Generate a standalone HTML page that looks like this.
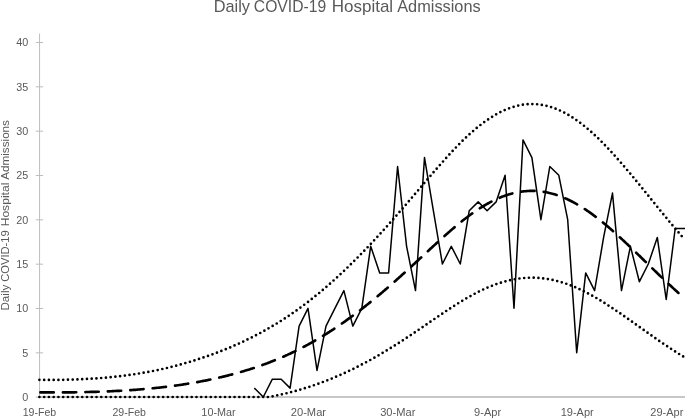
<!DOCTYPE html>
<html><head><meta charset="utf-8"><title>Daily COVID-19 Hospital Admissions</title>
<style>
html,body{margin:0;padding:0;background:#fff;}
body{width:685px;height:418px;overflow:hidden;}
svg{display:block;font-family:"Liberation Sans",sans-serif;}
</style></head><body>
<svg width="685" height="418" viewBox="0 0 685 418">
<rect width="685" height="418" fill="#fff"/>
<g font-size="16.2" fill="#595959"><text x="213.70" y="11.9" textLength="36.31" lengthAdjust="spacingAndGlyphs">Daily</text><text x="253.87" y="11.9" textLength="72.29" lengthAdjust="spacingAndGlyphs">COVID-19</text><text x="331.78" y="11.9" textLength="61.36" lengthAdjust="spacingAndGlyphs">Hospital</text><text x="397.20" y="11.9" textLength="83.51" lengthAdjust="spacingAndGlyphs">Admissions</text></g>
<g transform="translate(9.2 309.8) rotate(-90)" font-size="11.8" fill="#595959"><text x="-0.82" y="0" textLength="25.92" lengthAdjust="spacingAndGlyphs">Daily</text><text x="28.04" y="0" textLength="51.55" lengthAdjust="spacingAndGlyphs">COVID-19</text><text x="83.44" y="0" textLength="43.76" lengthAdjust="spacingAndGlyphs">Hospital</text><text x="130.10" y="0" textLength="59.66" lengthAdjust="spacingAndGlyphs">Admissions</text></g>
<g stroke="#bdbdbd" stroke-width="1" fill="none" >
<line x1="39.57" x2="39.57" y1="33.6" y2="397.4"/>
<line x1="39" x2="685" y1="397" y2="397" stroke="#b4b4b4" stroke-width="1.3"/>
<line x1="35.8" x2="43.1" y1="397.18" y2="397.18"/><line x1="35.8" x2="43.1" y1="352.84" y2="352.84"/><line x1="35.8" x2="43.1" y1="308.51" y2="308.51"/><line x1="35.8" x2="43.1" y1="264.18" y2="264.18"/><line x1="35.8" x2="43.1" y1="219.84" y2="219.84"/><line x1="35.8" x2="43.1" y1="175.50" y2="175.50"/><line x1="35.8" x2="43.1" y1="131.17" y2="131.17"/><line x1="35.8" x2="43.1" y1="86.83" y2="86.83"/><line x1="35.8" x2="43.1" y1="42.50" y2="42.50"/>
</g>
<g font-size="10.8" fill="#595959"><text x="28.3" y="400.9" text-anchor="end">0</text><text x="28.3" y="356.5" text-anchor="end">5</text><text x="28.3" y="312.2" text-anchor="end">10</text><text x="28.3" y="267.8" text-anchor="end">15</text><text x="28.3" y="223.5" text-anchor="end">20</text><text x="28.3" y="179.2" text-anchor="end">25</text><text x="28.3" y="134.8" text-anchor="end">30</text><text x="28.3" y="90.5" text-anchor="end">35</text><text x="28.3" y="46.2" text-anchor="end">40</text></g>
<g font-size="10.8" fill="#595959"><text x="22.72" y="415.8" textLength="33.55" lengthAdjust="spacingAndGlyphs">19-Feb</text><text x="112.48" y="415.8" textLength="33.53" lengthAdjust="spacingAndGlyphs">29-Feb</text><text x="201.37" y="415.8" textLength="34.28" lengthAdjust="spacingAndGlyphs">10-Mar</text><text x="290.79" y="415.8" textLength="35.27" lengthAdjust="spacingAndGlyphs">20-Mar</text><text x="380.18" y="415.8" textLength="35.27" lengthAdjust="spacingAndGlyphs">30-Mar</text><text x="474.08" y="415.8" textLength="27.03" lengthAdjust="spacingAndGlyphs">9-Apr</text><text x="560.72" y="415.8" textLength="33.04" lengthAdjust="spacingAndGlyphs">19-Apr</text><text x="650.38" y="415.8" textLength="33.02" lengthAdjust="spacingAndGlyphs">29-Apr</text></g>
<g fill="none" stroke="#000" >
<path d="M39.4 379.8 L40.4 379.8 L41.4 379.8 L42.4 379.9 L43.4 379.9 L44.4 379.9 L45.4 379.9 L46.4 379.9 L47.4 379.9 L48.4 379.9 L49.4 379.9 L50.4 379.9 L51.4 379.9 L52.4 379.9 L53.4 379.9 L54.4 379.9 L55.4 379.9 L56.4 379.9 L57.4 379.9 L58.4 379.9 L59.4 379.9 L60.4 379.9 L61.4 379.9 L62.4 379.9 L63.4 379.8 L64.4 379.8 L65.4 379.8 L66.4 379.8 L67.4 379.7 L68.4 379.7 L69.4 379.7 L70.4 379.7 L71.4 379.6 L72.4 379.6 L73.4 379.6 L74.4 379.5 L75.4 379.5 L76.4 379.5 L77.4 379.4 L78.4 379.4 L79.4 379.3 L80.4 379.3 L81.4 379.3 L82.4 379.2 L83.4 379.2 L84.4 379.1 L85.4 379.1 L86.4 379.0 L87.4 378.9 L88.4 378.9 L89.4 378.8 L90.4 378.8 L91.4 378.7 L92.4 378.6 L93.4 378.6 L94.4 378.5 L95.4 378.4 L96.4 378.4 L97.4 378.3 L98.4 378.2 L99.4 378.1 L100.4 378.1 L101.4 378.0 L102.4 377.9 L103.4 377.8 L104.4 377.7 L105.4 377.7 L106.4 377.6 L107.4 377.5 L108.4 377.4 L109.4 377.3 L110.4 377.2 L111.4 377.1 L112.4 377.0 L113.4 376.9 L114.4 376.8 L115.4 376.7 L116.4 376.6 L117.4 376.4 L118.4 376.3 L119.4 376.2 L120.4 376.1 L121.4 376.0 L122.4 375.9 L123.4 375.7 L124.4 375.6 L125.4 375.5 L126.4 375.3 L127.4 375.2 L128.4 375.1 L129.4 374.9 L130.4 374.8 L131.4 374.6 L132.4 374.5 L133.4 374.4 L134.4 374.2 L135.4 374.1 L136.4 373.9 L137.4 373.7 L138.4 373.6 L139.4 373.4 L140.4 373.3 L141.4 373.1 L142.4 372.9 L143.4 372.7 L144.4 372.6 L145.4 372.4 L146.4 372.2 L147.4 372.0 L148.4 371.9 L149.4 371.7 L150.4 371.5 L151.4 371.3 L152.4 371.1 L153.4 370.9 L154.4 370.7 L155.4 370.5 L156.4 370.3 L157.4 370.1 L158.4 369.9 L159.4 369.7 L160.4 369.4 L161.4 369.2 L162.4 369.0 L163.4 368.8 L164.4 368.5 L165.4 368.3 L166.4 368.1 L167.4 367.9 L168.4 367.6 L169.4 367.4 L170.4 367.1 L171.4 366.9 L172.4 366.6 L173.4 366.4 L174.4 366.1 L175.4 365.9 L176.4 365.6 L177.4 365.3 L178.4 365.1 L179.4 364.8 L180.4 364.5 L181.4 364.3 L182.4 364.0 L183.4 363.7 L184.4 363.4 L185.4 363.1 L186.4 362.8 L187.4 362.6 L188.4 362.3 L189.4 362.0 L190.4 361.7 L191.4 361.4 L192.4 361.1 L193.4 360.7 L194.4 360.4 L195.4 360.1 L196.4 359.8 L197.4 359.5 L198.4 359.2 L199.4 358.8 L200.4 358.5 L201.4 358.2 L202.4 357.8 L203.4 357.5 L204.4 357.2 L205.4 356.8 L206.4 356.5 L207.4 356.1 L208.4 355.8 L209.4 355.4 L210.4 355.1 L211.4 354.7 L212.4 354.3 L213.4 354.0 L214.4 353.6 L215.4 353.2 L216.4 352.9 L217.4 352.5 L218.4 352.1 L219.4 351.7 L220.4 351.3 L221.4 350.9 L222.4 350.5 L223.4 350.1 L224.4 349.7 L225.4 349.3 L226.4 348.9 L227.4 348.5 L228.4 348.1 L229.4 347.7 L230.4 347.3 L231.4 346.8 L232.4 346.4 L233.4 346.0 L234.4 345.5 L235.4 345.1 L236.4 344.7 L237.4 344.2 L238.4 343.8 L239.4 343.3 L240.4 342.8 L241.4 342.4 L242.4 341.9 L243.4 341.5 L244.4 341.0 L245.4 340.5 L246.4 340.0 L247.4 339.5 L248.4 339.1 L249.4 338.6 L250.4 338.1 L251.4 337.6 L252.4 337.1 L253.4 336.6 L254.4 336.0 L255.4 335.5 L256.4 335.0 L257.4 334.5 L258.4 334.0 L259.4 333.4 L260.4 332.9 L261.4 332.3 L262.4 331.8 L263.4 331.3 L264.4 330.7 L265.4 330.1 L266.4 329.6 L267.4 329.0 L268.4 328.4 L269.4 327.9 L270.4 327.3 L271.4 326.7 L272.4 326.1 L273.4 325.5 L274.4 324.9 L275.4 324.3 L276.4 323.7 L277.4 323.1 L278.4 322.5 L279.4 321.9 L280.4 321.2 L281.4 320.6 L282.4 320.0 L283.4 319.3 L284.4 318.7 L285.4 318.0 L286.4 317.4 L287.4 316.7 L288.4 316.0 L289.4 315.4 L290.4 314.7 L291.4 314.0 L292.4 313.3 L293.4 312.6 L294.4 311.9 L295.4 311.2 L296.4 310.5 L297.4 309.8 L298.4 309.1 L299.4 308.3 L300.4 307.6 L301.4 306.9 L302.4 306.1 L303.4 305.4 L304.4 304.6 L305.4 303.9 L306.4 303.1 L307.4 302.4 L308.4 301.6 L309.4 300.8 L310.4 300.0 L311.4 299.2 L312.4 298.5 L313.4 297.7 L314.4 296.9 L315.4 296.0 L316.4 295.2 L317.4 294.4 L318.4 293.6 L319.4 292.8 L320.4 291.9 L321.4 291.1 L322.4 290.2 L323.4 289.4 L324.4 288.5 L325.4 287.7 L326.4 286.8 L327.4 285.9 L328.4 285.1 L329.4 284.2 L330.4 283.3 L331.4 282.4 L332.4 281.5 L333.4 280.6 L334.4 279.7 L335.4 278.8 L336.4 277.9 L337.4 277.0 L338.4 276.1 L339.4 275.2 L340.4 274.2 L341.4 273.3 L342.4 272.4 L343.4 271.4 L344.4 270.5 L345.4 269.5 L346.4 268.6 L347.4 267.6 L348.4 266.6 L349.4 265.7 L350.4 264.7 L351.4 263.7 L352.4 262.7 L353.4 261.7 L354.4 260.7 L355.4 259.7 L356.4 258.7 L357.4 257.7 L358.4 256.7 L359.4 255.7 L360.4 254.7 L361.4 253.7 L362.4 252.6 L363.4 251.6 L364.4 250.6 L365.4 249.5 L366.4 248.5 L367.4 247.5 L368.4 246.4 L369.4 245.3 L370.4 244.3 L371.4 243.2 L372.4 242.2 L373.4 241.1 L374.4 240.0 L375.4 238.9 L376.4 237.9 L377.4 236.8 L378.4 235.7 L379.4 234.6 L380.4 233.5 L381.4 232.4 L382.4 231.3 L383.4 230.2 L384.4 229.1 L385.4 228.0 L386.4 226.9 L387.4 225.8 L388.4 224.6 L389.4 223.5 L390.4 222.4 L391.4 221.3 L392.4 220.1 L393.4 219.0 L394.4 217.9 L395.4 216.7 L396.4 215.6 L397.4 214.4 L398.4 213.3 L399.4 212.1 L400.4 211.0 L401.4 209.8 L402.4 208.7 L403.4 207.5 L404.4 206.4 L405.4 205.2 L406.4 204.1 L407.4 202.9 L408.4 201.7 L409.4 200.6 L410.4 199.4 L411.4 198.2 L412.4 197.0 L413.4 195.9 L414.4 194.7 L415.4 193.5 L416.4 192.3 L417.4 191.2 L418.4 190.0 L419.4 188.8 L420.4 187.6 L421.4 186.5 L422.4 185.3 L423.4 184.1 L424.4 182.9 L425.4 181.8 L426.4 180.6 L427.4 179.4 L428.4 178.3 L429.4 177.1 L430.4 175.9 L431.4 174.8 L432.4 173.6 L433.4 172.4 L434.4 171.3 L435.4 170.1 L436.4 169.0 L437.4 167.8 L438.4 166.7 L439.4 165.6 L440.4 164.4 L441.4 163.3 L442.4 162.2 L443.4 161.1 L444.4 159.9 L445.4 158.8 L446.4 157.7 L447.4 156.6 L448.4 155.5 L449.4 154.4 L450.4 153.4 L451.4 152.3 L452.4 151.2 L453.4 150.1 L454.4 149.1 L455.4 148.0 L456.4 147.0 L457.4 146.0 L458.4 145.0 L459.4 143.9 L460.4 142.9 L461.4 141.9 L462.4 140.9 L463.4 140.0 L464.4 139.0 L465.4 138.0 L466.4 137.1 L467.4 136.2 L468.4 135.2 L469.4 134.3 L470.4 133.4 L471.4 132.5 L472.4 131.6 L473.4 130.8 L474.4 129.9 L475.4 129.1 L476.4 128.2 L477.4 127.4 L478.4 126.6 L479.4 125.8 L480.4 125.0 L481.4 124.2 L482.4 123.5 L483.4 122.7 L484.4 122.0 L485.4 121.3 L486.4 120.5 L487.4 119.9 L488.4 119.2 L489.4 118.5 L490.4 117.8 L491.4 117.2 L492.4 116.6 L493.4 116.0 L494.4 115.4 L495.4 114.8 L496.4 114.2 L497.4 113.7 L498.4 113.1 L499.4 112.6 L500.4 112.1 L501.4 111.6 L502.4 111.1 L503.4 110.7 L504.4 110.2 L505.4 109.8 L506.4 109.3 L507.4 108.9 L508.4 108.6 L509.4 108.2 L510.4 107.8 L511.4 107.5 L512.4 107.2 L513.4 106.9 L514.4 106.6 L515.4 106.3 L516.4 106.0 L517.4 105.8 L518.4 105.5 L519.4 105.3 L520.4 105.1 L521.4 105.0 L522.4 104.8 L523.4 104.6 L524.4 104.5 L525.4 104.4 L526.4 104.3 L527.4 104.2 L528.4 104.2 L529.4 104.1 L530.4 104.1 L531.4 104.1 L532.4 104.1 L533.4 104.1 L534.4 104.1 L535.4 104.2 L536.4 104.2 L537.4 104.3 L538.4 104.4 L539.4 104.5 L540.4 104.7 L541.4 104.8 L542.4 105.0 L543.4 105.2 L544.4 105.4 L545.4 105.6 L546.4 105.8 L547.4 106.1 L548.4 106.3 L549.4 106.6 L550.4 106.9 L551.4 107.2 L552.4 107.5 L553.4 107.9 L554.4 108.2 L555.4 108.6 L556.4 109.0 L557.4 109.4 L558.4 109.8 L559.4 110.3 L560.4 110.7 L561.4 111.2 L562.4 111.7 L563.4 112.2 L564.4 112.7 L565.4 113.2 L566.4 113.8 L567.4 114.4 L568.4 114.9 L569.4 115.5 L570.4 116.1 L571.4 116.7 L572.4 117.4 L573.4 118.0 L574.4 118.7 L575.4 119.4 L576.4 120.1 L577.4 120.8 L578.4 121.5 L579.4 122.2 L580.4 123.0 L581.4 123.7 L582.4 124.5 L583.4 125.3 L584.4 126.1 L585.4 126.9 L586.4 127.7 L587.4 128.6 L588.4 129.4 L589.4 130.3 L590.4 131.1 L591.4 132.0 L592.4 132.9 L593.4 133.8 L594.4 134.8 L595.4 135.7 L596.4 136.6 L597.4 137.6 L598.4 138.5 L599.4 139.5 L600.4 140.5 L601.4 141.5 L602.4 142.5 L603.4 143.5 L604.4 144.6 L605.4 145.6 L606.4 146.6 L607.4 147.7 L608.4 148.8 L609.4 149.8 L610.4 150.9 L611.4 152.0 L612.4 153.1 L613.4 154.2 L614.4 155.3 L615.4 156.4 L616.4 157.5 L617.4 158.7 L618.4 159.8 L619.4 160.9 L620.4 162.1 L621.4 163.2 L622.4 164.4 L623.4 165.6 L624.4 166.7 L625.4 167.9 L626.4 169.1 L627.4 170.3 L628.4 171.4 L629.4 172.6 L630.4 173.8 L631.4 175.0 L632.4 176.2 L633.4 177.4 L634.4 178.7 L635.4 179.9 L636.4 181.1 L637.4 182.3 L638.4 183.5 L639.4 184.7 L640.4 186.0 L641.4 187.2 L642.4 188.4 L643.4 189.6 L644.4 190.9 L645.4 192.1 L646.4 193.3 L647.4 194.6 L648.4 195.8 L649.4 197.0 L650.4 198.3 L651.4 199.5 L652.4 200.7 L653.4 202.0 L654.4 203.2 L655.4 204.4 L656.4 205.7 L657.4 206.9 L658.4 208.1 L659.4 209.4 L660.4 210.6 L661.4 211.8 L662.4 213.1 L663.4 214.3 L664.4 215.5 L665.4 216.7 L666.4 217.9 L667.4 219.1 L668.4 220.4 L669.4 221.6 L670.4 222.8 L671.4 224.0 L672.4 225.2 L673.4 226.3 L674.4 227.5 L675.4 228.7 L676.4 229.9 L677.4 231.1 L678.4 232.3 L679.4 233.4 L680.4 234.6 L681.4 235.7 L682.4 236.9 L683.4 238.1 L684.2 239.0" stroke-width="2.7" stroke-linecap="round" stroke-dasharray="0 4.76"/>
<path d="M39.4 397.0 L40.4 397.0 L41.4 397.0 L42.4 397.0 L43.4 397.0 L44.4 397.0 L45.4 397.0 L46.4 397.0 L47.4 397.0 L48.4 397.0 L49.4 397.0 L50.4 397.0 L51.4 397.0 L52.4 397.0 L53.4 397.0 L54.4 397.0 L55.4 397.0 L56.4 397.0 L57.4 397.0 L58.4 397.0 L59.4 397.0 L60.4 397.0 L61.4 397.0 L62.4 397.0 L63.4 397.0 L64.4 397.0 L65.4 397.0 L66.4 397.0 L67.4 397.0 L68.4 397.0 L69.4 397.0 L70.4 397.0 L71.4 397.0 L72.4 397.0 L73.4 397.0 L74.4 397.0 L75.4 397.0 L76.4 397.0 L77.4 397.0 L78.4 397.0 L79.4 397.0 L80.4 397.0 L81.4 397.0 L82.4 397.0 L83.4 397.0 L84.4 397.0 L85.4 397.0 L86.4 397.0 L87.4 397.0 L88.4 397.0 L89.4 397.0 L90.4 397.0 L91.4 397.0 L92.4 397.0 L93.4 397.0 L94.4 397.0 L95.4 397.0 L96.4 397.0 L97.4 397.0 L98.4 397.0 L99.4 397.0 L100.4 397.0 L101.4 397.0 L102.4 397.0 L103.4 397.0 L104.4 397.0 L105.4 397.0 L106.4 397.0 L107.4 397.0 L108.4 397.0 L109.4 397.0 L110.4 397.0 L111.4 397.0 L112.4 397.0 L113.4 397.0 L114.4 397.0 L115.4 397.0 L116.4 397.0 L117.4 397.0 L118.4 397.0 L119.4 397.0 L120.4 397.0 L121.4 397.0 L122.4 397.0 L123.4 397.0 L124.4 397.0 L125.4 397.0 L126.4 397.0 L127.4 397.0 L128.4 397.0 L129.4 397.0 L130.4 397.0 L131.4 397.0 L132.4 397.0 L133.4 397.0 L134.4 397.0 L135.4 397.0 L136.4 397.0 L137.4 397.0 L138.4 397.0 L139.4 397.0 L140.4 397.0 L141.4 397.0 L142.4 397.0 L143.4 397.0 L144.4 397.0 L145.4 397.0 L146.4 397.0 L147.4 397.0 L148.4 397.0 L149.4 397.0 L150.4 397.0 L151.4 397.0 L152.4 397.0 L153.4 397.0 L154.4 397.0 L155.4 397.0 L156.4 397.0 L157.4 397.0 L158.4 397.0 L159.4 397.0 L160.4 397.0 L161.4 397.0 L162.4 397.0 L163.4 397.0 L164.4 397.0 L165.4 397.0 L166.4 397.0 L167.4 397.0 L168.4 397.0 L169.4 397.0 L170.4 397.0 L171.4 397.0 L172.4 397.0 L173.4 397.0 L174.4 397.0 L175.4 397.0 L176.4 397.0 L177.4 397.0 L178.4 397.0 L179.4 397.0 L180.4 397.0 L181.4 397.0 L182.4 397.0 L183.4 397.0 L184.4 397.0 L185.4 397.0 L186.4 397.0 L187.4 397.0 L188.4 397.0 L189.4 397.0 L190.4 397.0 L191.4 397.0 L192.4 397.0 L193.4 397.0 L194.4 397.0 L195.4 397.0 L196.4 397.0 L197.4 397.0 L198.4 397.0 L199.4 397.0 L200.4 397.0 L201.4 397.0 L202.4 397.0 L203.4 397.0 L204.4 397.0 L205.4 397.0 L206.4 397.0 L207.4 397.0 L208.4 397.0 L209.4 397.0 L210.4 397.0 L211.4 397.0 L212.4 397.0 L213.4 397.0 L214.4 397.0 L215.4 397.0 L216.4 397.0 L217.4 397.0 L218.4 397.0 L219.4 397.0 L220.4 397.0 L221.4 397.0 L222.4 397.0 L223.4 397.0 L224.4 397.0 L225.4 397.0 L226.4 397.0 L227.4 397.0 L228.4 397.0 L229.4 397.0 L230.4 397.0 L231.4 397.0 L232.4 397.0 L233.4 397.0 L234.4 397.0 L235.4 397.0 L236.4 397.0 L237.4 397.0 L238.4 397.0 L239.4 397.0 L240.4 397.0 L241.4 397.0 L242.4 397.0 L243.4 397.0 L244.4 397.0 L245.4 397.0 L246.4 397.0 L247.4 397.0 L248.4 397.0 L249.4 397.0 L250.4 397.0 L251.4 397.0 L252.4 397.0 L253.4 397.0 L254.4 397.0 L255.4 397.0 L256.4 397.0 L257.4 397.0 L258.4 397.0 L259.4 397.0 L260.4 397.0 L261.4 397.0 L262.4 397.0 L263.4 397.0 L264.4 397.0 L265.4 397.0 L266.4 397.0 L267.4 397.0 L268.4 397.0 L269.4 396.9 L270.4 396.8 L271.4 396.6 L272.4 396.4 L273.4 396.2 L274.4 396.0 L275.4 395.8 L276.4 395.5 L277.4 395.3 L278.4 395.1 L279.4 394.9 L280.4 394.7 L281.4 394.5 L282.4 394.2 L283.4 394.0 L284.4 393.8 L285.4 393.5 L286.4 393.3 L287.4 393.0 L288.4 392.8 L289.4 392.5 L290.4 392.3 L291.4 392.0 L292.4 391.8 L293.4 391.5 L294.4 391.2 L295.4 391.0 L296.4 390.7 L297.4 390.4 L298.4 390.1 L299.4 389.8 L300.4 389.5 L301.4 389.3 L302.4 389.0 L303.4 388.7 L304.4 388.3 L305.4 388.0 L306.4 387.7 L307.4 387.4 L308.4 387.1 L309.4 386.8 L310.4 386.4 L311.4 386.1 L312.4 385.8 L313.4 385.4 L314.4 385.1 L315.4 384.7 L316.4 384.4 L317.4 384.0 L318.4 383.7 L319.4 383.3 L320.4 383.0 L321.4 382.6 L322.4 382.2 L323.4 381.8 L324.4 381.5 L325.4 381.1 L326.4 380.7 L327.4 380.3 L328.4 379.9 L329.4 379.5 L330.4 379.1 L331.4 378.7 L332.4 378.3 L333.4 377.9 L334.4 377.5 L335.4 377.0 L336.4 376.6 L337.4 376.2 L338.4 375.7 L339.4 375.3 L340.4 374.9 L341.4 374.4 L342.4 374.0 L343.4 373.5 L344.4 373.1 L345.4 372.6 L346.4 372.1 L347.4 371.7 L348.4 371.2 L349.4 370.7 L350.4 370.3 L351.4 369.8 L352.4 369.3 L353.4 368.8 L354.4 368.3 L355.4 367.8 L356.4 367.3 L357.4 366.8 L358.4 366.3 L359.4 365.8 L360.4 365.3 L361.4 364.7 L362.4 364.2 L363.4 363.7 L364.4 363.2 L365.4 362.6 L366.4 362.1 L367.4 361.6 L368.4 361.0 L369.4 360.5 L370.4 359.9 L371.4 359.4 L372.4 358.8 L373.4 358.2 L374.4 357.7 L375.4 357.1 L376.4 356.5 L377.4 356.0 L378.4 355.4 L379.4 354.8 L380.4 354.2 L381.4 353.6 L382.4 353.0 L383.4 352.4 L384.4 351.9 L385.4 351.3 L386.4 350.6 L387.4 350.0 L388.4 349.4 L389.4 348.8 L390.4 348.2 L391.4 347.6 L392.4 347.0 L393.4 346.3 L394.4 345.7 L395.4 345.1 L396.4 344.5 L397.4 343.8 L398.4 343.2 L399.4 342.5 L400.4 341.9 L401.4 341.3 L402.4 340.6 L403.4 340.0 L404.4 339.3 L405.4 338.6 L406.4 338.0 L407.4 337.3 L408.4 336.7 L409.4 336.0 L410.4 335.3 L411.4 334.7 L412.4 334.0 L413.4 333.3 L414.4 332.7 L415.4 332.0 L416.4 331.3 L417.4 330.6 L418.4 329.9 L419.4 329.3 L420.4 328.6 L421.4 327.9 L422.4 327.2 L423.4 326.5 L424.4 325.8 L425.4 325.2 L426.4 324.5 L427.4 323.8 L428.4 323.1 L429.4 322.4 L430.4 321.7 L431.4 321.0 L432.4 320.4 L433.4 319.7 L434.4 319.0 L435.4 318.3 L436.4 317.6 L437.4 316.9 L438.4 316.3 L439.4 315.6 L440.4 314.9 L441.4 314.2 L442.4 313.6 L443.4 312.9 L444.4 312.2 L445.4 311.5 L446.4 310.9 L447.4 310.2 L448.4 309.6 L449.4 308.9 L450.4 308.2 L451.4 307.6 L452.4 306.9 L453.4 306.3 L454.4 305.7 L455.4 305.0 L456.4 304.4 L457.4 303.8 L458.4 303.1 L459.4 302.5 L460.4 301.9 L461.4 301.3 L462.4 300.7 L463.4 300.1 L464.4 299.5 L465.4 298.9 L466.4 298.3 L467.4 297.8 L468.4 297.2 L469.4 296.6 L470.4 296.1 L471.4 295.5 L472.4 295.0 L473.4 294.4 L474.4 293.9 L475.4 293.4 L476.4 292.8 L477.4 292.3 L478.4 291.8 L479.4 291.3 L480.4 290.8 L481.4 290.4 L482.4 289.9 L483.4 289.4 L484.4 289.0 L485.4 288.5 L486.4 288.1 L487.4 287.6 L488.4 287.2 L489.4 286.8 L490.4 286.4 L491.4 286.0 L492.4 285.6 L493.4 285.2 L494.4 284.8 L495.4 284.5 L496.4 284.1 L497.4 283.8 L498.4 283.4 L499.4 283.1 L500.4 282.8 L501.4 282.5 L502.4 282.2 L503.4 281.9 L504.4 281.6 L505.4 281.3 L506.4 281.1 L507.4 280.8 L508.4 280.6 L509.4 280.3 L510.4 280.1 L511.4 279.9 L512.4 279.7 L513.4 279.5 L514.4 279.3 L515.4 279.1 L516.4 279.0 L517.4 278.8 L518.4 278.7 L519.4 278.5 L520.4 278.4 L521.4 278.3 L522.4 278.2 L523.4 278.1 L524.4 278.0 L525.4 277.9 L526.4 277.9 L527.4 277.8 L528.4 277.8 L529.4 277.7 L530.4 277.7 L531.4 277.7 L532.4 277.7 L533.4 277.7 L534.4 277.7 L535.4 277.8 L536.4 277.8 L537.4 277.9 L538.4 277.9 L539.4 278.0 L540.4 278.1 L541.4 278.2 L542.4 278.3 L543.4 278.4 L544.4 278.5 L545.4 278.7 L546.4 278.8 L547.4 279.0 L548.4 279.1 L549.4 279.3 L550.4 279.5 L551.4 279.7 L552.4 279.9 L553.4 280.1 L554.4 280.4 L555.4 280.6 L556.4 280.8 L557.4 281.1 L558.4 281.4 L559.4 281.6 L560.4 281.9 L561.4 282.2 L562.4 282.5 L563.4 282.8 L564.4 283.2 L565.4 283.5 L566.4 283.8 L567.4 284.2 L568.4 284.6 L569.4 284.9 L570.4 285.3 L571.4 285.7 L572.4 286.1 L573.4 286.5 L574.4 286.9 L575.4 287.3 L576.4 287.8 L577.4 288.2 L578.4 288.7 L579.4 289.1 L580.4 289.6 L581.4 290.1 L582.4 290.5 L583.4 291.0 L584.4 291.5 L585.4 292.0 L586.4 292.5 L587.4 293.1 L588.4 293.6 L589.4 294.1 L590.4 294.7 L591.4 295.2 L592.4 295.8 L593.4 296.3 L594.4 296.9 L595.4 297.5 L596.4 298.0 L597.4 298.6 L598.4 299.2 L599.4 299.8 L600.4 300.4 L601.4 301.0 L602.4 301.7 L603.4 302.3 L604.4 302.9 L605.4 303.5 L606.4 304.2 L607.4 304.8 L608.4 305.5 L609.4 306.1 L610.4 306.8 L611.4 307.4 L612.4 308.1 L613.4 308.7 L614.4 309.4 L615.4 310.1 L616.4 310.8 L617.4 311.4 L618.4 312.1 L619.4 312.8 L620.4 313.5 L621.4 314.2 L622.4 314.9 L623.4 315.6 L624.4 316.3 L625.4 317.0 L626.4 317.7 L627.4 318.4 L628.4 319.1 L629.4 319.8 L630.4 320.5 L631.4 321.2 L632.4 321.9 L633.4 322.6 L634.4 323.3 L635.4 324.0 L636.4 324.8 L637.4 325.5 L638.4 326.2 L639.4 326.9 L640.4 327.6 L641.4 328.3 L642.4 329.0 L643.4 329.7 L644.4 330.5 L645.4 331.2 L646.4 331.9 L647.4 332.6 L648.4 333.3 L649.4 334.0 L650.4 334.7 L651.4 335.4 L652.4 336.1 L653.4 336.8 L654.4 337.5 L655.4 338.2 L656.4 338.9 L657.4 339.6 L658.4 340.3 L659.4 341.0 L660.4 341.7 L661.4 342.4 L662.4 343.0 L663.4 343.7 L664.4 344.4 L665.4 345.1 L666.4 345.7 L667.4 346.4 L668.4 347.1 L669.4 347.7 L670.4 348.4 L671.4 349.1 L672.4 349.7 L673.4 350.4 L674.4 351.0 L675.4 351.6 L676.4 352.3 L677.4 352.9 L678.4 353.5 L679.4 354.2 L680.4 354.8 L681.4 355.4 L682.4 356.0 L683.4 356.6 L684.2 357.1" stroke-width="2.7" stroke-linecap="round" stroke-dasharray="0 4.76"/>
<path d="M39.4 392.4 L40.4 392.4 L41.4 392.4 L42.4 392.4 L43.4 392.4 L44.4 392.4 L45.4 392.4 L46.4 392.4 L47.4 392.4 L48.4 392.4 L49.4 392.4 L50.4 392.4 L51.4 392.4 L52.4 392.4 L53.4 392.4 L54.4 392.4 L55.4 392.4 L56.4 392.4 L57.4 392.4 L58.4 392.4 L59.4 392.4 L60.4 392.4 L61.4 392.4 L62.4 392.4 L63.4 392.4 L64.4 392.4 L65.4 392.4 L66.4 392.4 L67.4 392.3 L68.4 392.3 L69.4 392.3 L70.4 392.3 L71.4 392.3 L72.4 392.3 L73.4 392.3 L74.4 392.3 L75.4 392.2 L76.4 392.2 L77.4 392.2 L78.4 392.2 L79.4 392.2 L80.4 392.2 L81.4 392.1 L82.4 392.1 L83.4 392.1 L84.4 392.1 L85.4 392.1 L86.4 392.0 L87.4 392.0 L88.4 392.0 L89.4 392.0 L90.4 391.9 L91.4 391.9 L92.4 391.9 L93.4 391.8 L94.4 391.8 L95.4 391.8 L96.4 391.8 L97.4 391.7 L98.4 391.7 L99.4 391.7 L100.4 391.6 L101.4 391.6 L102.4 391.5 L103.4 391.5 L104.4 391.5 L105.4 391.4 L106.4 391.4 L107.4 391.4 L108.4 391.3 L109.4 391.3 L110.4 391.2 L111.4 391.2 L112.4 391.1 L113.4 391.1 L114.4 391.0 L115.4 391.0 L116.4 390.9 L117.4 390.9 L118.4 390.8 L119.4 390.8 L120.4 390.7 L121.4 390.7 L122.4 390.6 L123.4 390.6 L124.4 390.5 L125.4 390.4 L126.4 390.4 L127.4 390.3 L128.4 390.3 L129.4 390.2 L130.4 390.1 L131.4 390.1 L132.4 390.0 L133.4 389.9 L134.4 389.8 L135.4 389.8 L136.4 389.7 L137.4 389.6 L138.4 389.5 L139.4 389.5 L140.4 389.4 L141.4 389.3 L142.4 389.2 L143.4 389.1 L144.4 389.1 L145.4 389.0 L146.4 388.9 L147.4 388.8 L148.4 388.7 L149.4 388.6 L150.4 388.5 L151.4 388.4 L152.4 388.3 L153.4 388.2 L154.4 388.1 L155.4 388.0 L156.4 387.9 L157.4 387.8 L158.4 387.7 L159.4 387.6 L160.4 387.5 L161.4 387.4 L162.4 387.3 L163.4 387.1 L164.4 387.0 L165.4 386.9 L166.4 386.8 L167.4 386.7 L168.4 386.5 L169.4 386.4 L170.4 386.3 L171.4 386.1 L172.4 386.0 L173.4 385.9 L174.4 385.7 L175.4 385.6 L176.4 385.5 L177.4 385.3 L178.4 385.2 L179.4 385.0 L180.4 384.9 L181.4 384.7 L182.4 384.6 L183.4 384.4 L184.4 384.3 L185.4 384.1 L186.4 384.0 L187.4 383.8 L188.4 383.6 L189.4 383.5 L190.4 383.3 L191.4 383.1 L192.4 383.0 L193.4 382.8 L194.4 382.6 L195.4 382.4 L196.4 382.3 L197.4 382.1 L198.4 381.9 L199.4 381.7 L200.4 381.5 L201.4 381.3 L202.4 381.1 L203.4 380.9 L204.4 380.8 L205.4 380.6 L206.4 380.4 L207.4 380.2 L208.4 379.9 L209.4 379.7 L210.4 379.5 L211.4 379.3 L212.4 379.1 L213.4 378.9 L214.4 378.7 L215.4 378.4 L216.4 378.2 L217.4 378.0 L218.4 377.8 L219.4 377.5 L220.4 377.3 L221.4 377.1 L222.4 376.8 L223.4 376.6 L224.4 376.4 L225.4 376.1 L226.4 375.9 L227.4 375.6 L228.4 375.4 L229.4 375.1 L230.4 374.8 L231.4 374.6 L232.4 374.3 L233.4 374.0 L234.4 373.8 L235.4 373.5 L236.4 373.2 L237.4 373.0 L238.4 372.7 L239.4 372.4 L240.4 372.1 L241.4 371.8 L242.4 371.5 L243.4 371.2 L244.4 370.9 L245.4 370.6 L246.4 370.3 L247.4 370.0 L248.4 369.7 L249.4 369.4 L250.4 369.1 L251.4 368.7 L252.4 368.4 L253.4 368.1 L254.4 367.8 L255.4 367.4 L256.4 367.1 L257.4 366.8 L258.4 366.4 L259.4 366.1 L260.4 365.7 L261.4 365.4 L262.4 365.0 L263.4 364.6 L264.4 364.3 L265.4 363.9 L266.4 363.5 L267.4 363.2 L268.4 362.8 L269.4 362.4 L270.4 362.0 L271.4 361.6 L272.4 361.2 L273.4 360.8 L274.4 360.4 L275.4 360.0 L276.4 359.6 L277.4 359.2 L278.4 358.8 L279.4 358.4 L280.4 357.9 L281.4 357.5 L282.4 357.1 L283.4 356.7 L284.4 356.2 L285.4 355.8 L286.4 355.3 L287.4 354.9 L288.4 354.4 L289.4 353.9 L290.4 353.5 L291.4 353.0 L292.4 352.5 L293.4 352.1 L294.4 351.6 L295.4 351.1 L296.4 350.6 L297.4 350.1 L298.4 349.6 L299.4 349.1 L300.4 348.6 L301.4 348.1 L302.4 347.5 L303.4 347.0 L304.4 346.5 L305.4 346.0 L306.4 345.4 L307.4 344.9 L308.4 344.3 L309.4 343.8 L310.4 343.2 L311.4 342.7 L312.4 342.1 L313.4 341.5 L314.4 341.0 L315.4 340.4 L316.4 339.8 L317.4 339.2 L318.4 338.6 L319.4 338.0 L320.4 337.4 L321.4 336.8 L322.4 336.2 L323.4 335.6 L324.4 335.0 L325.4 334.4 L326.4 333.8 L327.4 333.1 L328.4 332.5 L329.4 331.9 L330.4 331.2 L331.4 330.6 L332.4 329.9 L333.4 329.3 L334.4 328.6 L335.4 327.9 L336.4 327.3 L337.4 326.6 L338.4 325.9 L339.4 325.2 L340.4 324.5 L341.4 323.9 L342.4 323.2 L343.4 322.5 L344.4 321.8 L345.4 321.1 L346.4 320.3 L347.4 319.6 L348.4 318.9 L349.4 318.2 L350.4 317.5 L351.4 316.7 L352.4 316.0 L353.4 315.3 L354.4 314.5 L355.4 313.8 L356.4 313.0 L357.4 312.3 L358.4 311.5 L359.4 310.7 L360.4 310.0 L361.4 309.2 L362.4 308.4 L363.4 307.7 L364.4 306.9 L365.4 306.1 L366.4 305.3 L367.4 304.5 L368.4 303.7 L369.4 302.9 L370.4 302.1 L371.4 301.3 L372.4 300.5 L373.4 299.7 L374.4 298.8 L375.4 298.0 L376.4 297.2 L377.4 296.4 L378.4 295.5 L379.4 294.7 L380.4 293.9 L381.4 293.0 L382.4 292.2 L383.4 291.3 L384.4 290.5 L385.4 289.6 L386.4 288.8 L387.4 287.9 L388.4 287.0 L389.4 286.2 L390.4 285.3 L391.4 284.4 L392.4 283.6 L393.4 282.7 L394.4 281.8 L395.4 280.9 L396.4 280.0 L397.4 279.1 L398.4 278.2 L399.4 277.3 L400.4 276.4 L401.4 275.5 L402.4 274.6 L403.4 273.7 L404.4 272.8 L405.4 271.9 L406.4 271.0 L407.4 270.1 L408.4 269.2 L409.4 268.3 L410.4 267.4 L411.4 266.4 L412.4 265.5 L413.4 264.6 L414.4 263.7 L415.4 262.7 L416.4 261.8 L417.4 260.9 L418.4 260.0 L419.4 259.0 L420.4 258.1 L421.4 257.2 L422.4 256.3 L423.4 255.3 L424.4 254.4 L425.4 253.5 L426.4 252.5 L427.4 251.6 L428.4 250.7 L429.4 249.8 L430.4 248.8 L431.4 247.9 L432.4 247.0 L433.4 246.1 L434.4 245.1 L435.4 244.2 L436.4 243.3 L437.4 242.4 L438.4 241.5 L439.4 240.6 L440.4 239.7 L441.4 238.8 L442.4 237.9 L443.4 237.0 L444.4 236.1 L445.4 235.2 L446.4 234.3 L447.4 233.4 L448.4 232.5 L449.4 231.7 L450.4 230.8 L451.4 229.9 L452.4 229.1 L453.4 228.2 L454.4 227.4 L455.4 226.5 L456.4 225.7 L457.4 224.9 L458.4 224.0 L459.4 223.2 L460.4 222.4 L461.4 221.6 L462.4 220.8 L463.4 220.0 L464.4 219.2 L465.4 218.5 L466.4 217.7 L467.4 217.0 L468.4 216.2 L469.4 215.5 L470.4 214.7 L471.4 214.0 L472.4 213.3 L473.4 212.6 L474.4 211.9 L475.4 211.2 L476.4 210.5 L477.4 209.9 L478.4 209.2 L479.4 208.6 L480.4 207.9 L481.4 207.3 L482.4 206.7 L483.4 206.1 L484.4 205.5 L485.4 204.9 L486.4 204.3 L487.4 203.7 L488.4 203.2 L489.4 202.7 L490.4 202.1 L491.4 201.6 L492.4 201.1 L493.4 200.6 L494.4 200.1 L495.4 199.6 L496.4 199.2 L497.4 198.7 L498.4 198.3 L499.4 197.9 L500.4 197.4 L501.4 197.0 L502.4 196.6 L503.4 196.3 L504.4 195.9 L505.4 195.5 L506.4 195.2 L507.4 194.9 L508.4 194.6 L509.4 194.3 L510.4 194.0 L511.4 193.7 L512.4 193.4 L513.4 193.2 L514.4 192.9 L515.4 192.7 L516.4 192.5 L517.4 192.3 L518.4 192.1 L519.4 191.9 L520.4 191.8 L521.4 191.6 L522.4 191.5 L523.4 191.4 L524.4 191.3 L525.4 191.2 L526.4 191.1 L527.4 191.0 L528.4 191.0 L529.4 190.9 L530.4 190.9 L531.4 190.9 L532.4 190.9 L533.4 190.9 L534.4 190.9 L535.4 191.0 L536.4 191.0 L537.4 191.1 L538.4 191.2 L539.4 191.3 L540.4 191.4 L541.4 191.5 L542.4 191.6 L543.4 191.8 L544.4 191.9 L545.4 192.1 L546.4 192.3 L547.4 192.5 L548.4 192.7 L549.4 193.0 L550.4 193.2 L551.4 193.5 L552.4 193.7 L553.4 194.0 L554.4 194.3 L555.4 194.6 L556.4 194.9 L557.4 195.3 L558.4 195.6 L559.4 196.0 L560.4 196.3 L561.4 196.7 L562.4 197.1 L563.4 197.5 L564.4 197.9 L565.4 198.4 L566.4 198.8 L567.4 199.3 L568.4 199.7 L569.4 200.2 L570.4 200.7 L571.4 201.2 L572.4 201.7 L573.4 202.3 L574.4 202.8 L575.4 203.4 L576.4 203.9 L577.4 204.5 L578.4 205.1 L579.4 205.7 L580.4 206.3 L581.4 206.9 L582.4 207.5 L583.4 208.2 L584.4 208.8 L585.4 209.5 L586.4 210.1 L587.4 210.8 L588.4 211.5 L589.4 212.2 L590.4 212.9 L591.4 213.6 L592.4 214.3 L593.4 215.1 L594.4 215.8 L595.4 216.6 L596.4 217.3 L597.4 218.1 L598.4 218.9 L599.4 219.7 L600.4 220.5 L601.4 221.3 L602.4 222.1 L603.4 222.9 L604.4 223.7 L605.4 224.6 L606.4 225.4 L607.4 226.2 L608.4 227.1 L609.4 228.0 L610.4 228.8 L611.4 229.7 L612.4 230.6 L613.4 231.5 L614.4 232.4 L615.4 233.2 L616.4 234.1 L617.4 235.1 L618.4 236.0 L619.4 236.9 L620.4 237.8 L621.4 238.7 L622.4 239.6 L623.4 240.6 L624.4 241.5 L625.4 242.4 L626.4 243.4 L627.4 244.3 L628.4 245.3 L629.4 246.2 L630.4 247.2 L631.4 248.1 L632.4 249.1 L633.4 250.0 L634.4 251.0 L635.4 252.0 L636.4 252.9 L637.4 253.9 L638.4 254.9 L639.4 255.8 L640.4 256.8 L641.4 257.8 L642.4 258.7 L643.4 259.7 L644.4 260.7 L645.4 261.6 L646.4 262.6 L647.4 263.6 L648.4 264.6 L649.4 265.5 L650.4 266.5 L651.4 267.5 L652.4 268.4 L653.4 269.4 L654.4 270.4 L655.4 271.3 L656.4 272.3 L657.4 273.3 L658.4 274.2 L659.4 275.2 L660.4 276.1 L661.4 277.1 L662.4 278.0 L663.4 279.0 L664.4 279.9 L665.4 280.9 L666.4 281.8 L667.4 282.8 L668.4 283.7 L669.4 284.7 L670.4 285.6 L671.4 286.5 L672.4 287.4 L673.4 288.4 L674.4 289.3 L675.4 290.2 L676.4 291.1 L677.4 292.0 L678.4 292.9 L679.4 293.8 L680.4 294.7 L681.4 295.6 L682.4 296.5 L683.4 297.3 L684.2 298.0" stroke-width="2.65" stroke-linecap="round" stroke-dasharray="13.35 9.15" stroke-dashoffset="-1.0"/>
<path d="M254.3 388.1 L263.3 397.0 L272.2 379.3 L281.2 379.3 L290.1 388.1 L299.1 326.1 L308.0 308.3 L317.0 370.4 L326.0 326.1 L334.9 308.3 L343.9 290.6 L352.8 326.1 L361.8 308.3 L370.7 246.3 L379.7 272.9 L388.6 272.9 L397.6 166.5 L406.6 246.3 L415.5 290.6 L424.5 157.6 L433.4 210.8 L442.4 264.0 L451.3 246.3 L460.3 264.0 L469.2 210.8 L478.2 201.9 L487.1 210.8 L496.1 201.9 L505.1 175.3 L514.0 308.3 L523.0 139.9 L531.9 157.6 L540.9 219.7 L549.8 166.5 L558.8 175.3 L567.7 219.7 L576.7 352.7 L585.7 272.9 L594.6 290.6 L603.6 237.4 L612.5 193.1 L621.5 290.6 L630.4 246.3 L639.4 281.7 L648.3 264.0 L657.3 237.4 L666.2 299.5 L675.2 228.5 L684.2 228.5 L686 228.5" stroke-width="1.5" stroke-linejoin="round"/>
</g>
</svg>
</body></html>
